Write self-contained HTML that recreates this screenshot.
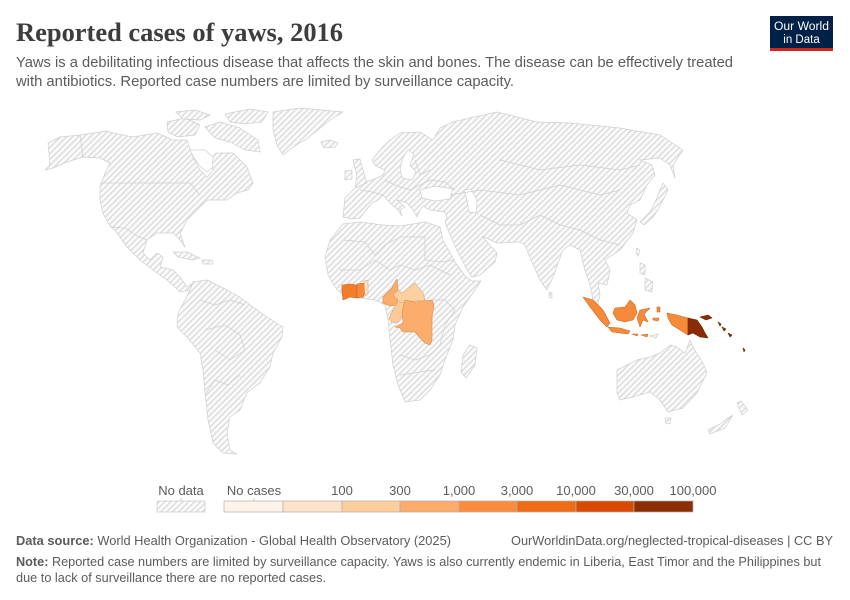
<!DOCTYPE html>
<html><head><meta charset="utf-8"><style>
html,body{margin:0;padding:0;background:#fff;}
svg{display:block;}
</style></head><body>
<svg width="850" height="600" viewBox="0 0 850 600" xmlns="http://www.w3.org/2000/svg" font-family="Liberation Sans, sans-serif">
<defs>
<pattern id="h" patternUnits="userSpaceOnUse" width="4.2" height="4.2" patternTransform="rotate(45)">
<rect width="4.2" height="4.2" fill="#fbfbfb"/>
<line x1="1" y1="0" x2="1" y2="4.2" stroke="#dadada" stroke-width="1.4"/>
</pattern>
</defs>
<rect width="850" height="600" fill="#fff"/>
<!-- Header -->
<text x="16" y="41" style="font-family:'Liberation Serif',serif;font-weight:bold;font-size:26px" fill="#3d3d3d" textLength="327" lengthAdjust="spacingAndGlyphs">Reported cases of yaws, 2016</text>
<text x="16" y="67" font-size="15" fill="#5b5b5b" textLength="717" lengthAdjust="spacingAndGlyphs">Yaws is a debilitating infectious disease that affects the skin and bones. The disease can be effectively treated</text>
<text x="16" y="86" font-size="15" fill="#5b5b5b" textLength="498" lengthAdjust="spacingAndGlyphs">with antibiotics. Reported case numbers are limited by surveillance capacity.</text>
<rect x="770" y="16" width="63" height="35" fill="#002147"/>
<rect x="770" y="48" width="63" height="3" fill="#ce261e"/>
<text x="801.5" y="30" font-size="11.5" fill="#fff" text-anchor="middle" textLength="55" lengthAdjust="spacingAndGlyphs">Our World</text>
<text x="801.5" y="43" font-size="11.5" fill="#fff" text-anchor="middle">in Data</text>

<!-- Map -->
<g fill="url(#h)" stroke="#cfcfcf" stroke-width="0.7" stroke-linejoin="round">
<path d="M45,170 L50,165 L48,143 L60,137 L80,135 L107,131 L113,133 L133,137 L157,133 L173,140 L187,140 L193,157 L200,170 L207,177 L213,170 L210,160 L216,153 L233,153 L247,167 L253,183 L248,190 L237,193 L227,200 L207,200 L197,210 L187,220 L182,230 L180,233 L185,247 L180,240 L173,233 L157,233 L147,240 L143,253 L150,260 L157,253 L163,257 L160,267 L173,270 L180,277 L187,287 L193,283 L190,290 L180,292 L167,280 L153,270 L140,260 L127,247 L117,233 L108,223 L103,213 L100,200 L100,187 L105,173 L110,163 L100,158 L83,157 L67,162 L53,168 Z"/>
<path d="M190,150 L205,150 L213,157 L212,168 L207,172 L200,166 L194,158 Z" fill="#fff"/>
<path d="M167,122 L185,118 L200,125 L195,135 L178,137 L168,132 Z"/>
<path d="M205,127 L220,122 L240,128 L258,140 L260,152 L245,150 L230,142 L215,138 Z"/>
<path d="M225,114 L250,109 L268,112 L262,122 L245,124 L230,122 Z"/>
<path d="M176,112 L195,110 L210,115 L200,120 L183,119 Z"/>
<path d="M273,112 L300,108 L343,112 L330,120 L318,130 L305,140 L293,147 L283,155 L277,145 L273,130 Z"/>
<path d="M321,142 L330,140 L338,143 L335,147 L324,148 Z"/>
<path d="M173,252 L187,252 L200,258 L192,260 L178,257 Z"/>
<path d="M202,260 L212,260 L213,264 L203,264 Z"/>
<path d="M193,282 L207,280 L227,290 L240,297 L253,307 L267,317 L283,327 L282,337 L273,353 L270,367 L260,383 L247,393 L240,410 L230,417 L227,433 L230,450 L237,454 L223,453 L213,443 L208,420 L205,393 L203,370 L200,353 L187,337 L177,327 L178,313 L185,300 L190,290 Z"/>
<!-- Eurasia -->
<path d="M345,198 L343,217 L352,219 L360,218 L366,210 L372,203 L378,200 L383,195 L390,203 L398,210 L402,216 L400,210 L405,207 L397,200 L407,203 L413,210 L417,217 L420,210 L423,206 L430,210 L445,212 L447,217 L445,222 L448,230 L456,248 L466,268 L472,277 L480,275 L495,262 L497,253 L487,242 L482,236 L497,243 L520,242 L525,245 L530,258 L540,280 L547,290 L553,277 L563,250 L570,245 L580,250 L585,270 L590,285 L593,300 L597,308 L600,295 L598,283 L607,285 L610,270 L605,260 L620,250 L633,233 L637,220 L627,213 L630,205 L640,200 L647,185 L655,175 L652,165 L640,160 L660,158 L670,165 L675,178 L673,165 L683,150 L660,135 L620,128 L570,123 L537,122 L497,112 L470,118 L453,122 L440,128 L433,140 L420,132 L400,133 L390,140 L380,150 L372,160 L376,166 L385,170 L383,175 L372,180 L360,183 L353,190 Z"/>
<path d="M402,178 L400,168 L403,158 L408,150 L414,154 L410,165 L416,172 L412,180 Z" fill="#fff"/>
<path d="M420,190 L435,186 L453,189 L450,199 L435,201 L422,198 Z" fill="#fff"/>
<path d="M464,190 L471,189 L477,200 L476,213 L469,212 L467,200 Z" fill="#fff"/>
<path d="M353,160 L360,159 L363,170 L367,183 L355,188 L357,176 Z"/>
<path d="M345,171 L352,170 L352,179 L345,180 Z"/>
<path d="M663,183 L668,190 L663,200 L658,210 L652,218 L644,225 L640,222 L650,212 L656,200 L660,190 Z"/>
<path d="M637,248 L640,250 L638,256 L636,253 Z"/>
<path d="M549,292 L552,293 L552,298 L549,297 Z"/>
<path d="M640,263 L645,265 L645,275 L640,273 Z"/>
<path d="M645,278 L653,282 L652,292 L645,290 Z"/>
<path d="M650,336 L658,334 L656,338 Z"/>
<!-- Africa -->
<path d="M325,257 L330,240 L343,224 L360,222 L383,225 L400,226 L425,222 L440,227 L443,240 L455,262 L465,276 L472,281 L481,281 L475,290 L463,307 L455,325 L453,340 L445,360 L440,375 L430,390 L420,400 L405,402 L398,385 L393,365 L390,340 L388,320 L385,305 L375,300 L360,298 L347,297 L337,290 L328,275 Z"/>
<path d="M470,345 L477,348 L475,365 L466,378 L461,372 L463,355 Z"/>
<!-- Australia -->
<path d="M617,370 L623,367 L637,360 L650,357 L660,353 L670,345 L677,347 L685,353 L690,340 L693,347 L703,363 L707,373 L697,393 L683,408 L668,412 L660,400 L650,392 L633,397 L620,400 L617,393 Z"/>
<path d="M665,418 L671,418 L670,424 L666,423 Z"/>
<path d="M737,403 L741,401 L748,410 L742,415 Z"/>
<path d="M728,418 L733,415 L725,428 L710,434 L708,430 L720,424 Z"/>
</g>

<g fill="none" stroke="#cfcfcf" stroke-width="0.7">
<path d="M100,183 L190,183 L200,195"/>
<path d="M110,227 L125,228 L137,236 L147,240"/>
<path d="M80,135 L83,157"/>
<path d="M200,300 L215,305 L230,300 L245,305"/>
<path d="M205,330 L225,325 L240,335 L245,350 L230,360 L215,350"/>
<path d="M205,395 L215,380 L228,385 L240,375"/>
<path d="M343,240 L365,242 L375,255 L385,245 L400,237 L425,237 L425,260 L440,262 L455,260"/>
<path d="M340,270 L360,270 L375,260 L390,270 L400,265 L415,270 L430,265 L450,275"/>
<path d="M430,300 L445,300 L455,310 L445,325 L440,345 L430,355 L415,360 L400,355"/>
<path d="M400,375 L420,372 L435,370"/>
<path d="M450,195 L480,190 L520,195 L560,185 L600,195 L620,190"/>
<path d="M480,215 L500,225 L520,225 L540,215 L560,225 L580,230 L600,240 L620,245"/>
<path d="M385,180 L395,185 L410,190 L420,185 L430,180 L445,182 L455,190"/>
<path d="M360,190 L372,192 L383,195"/>
<path d="M415,160 L420,175 L430,170"/>
<path d="M500,160 L540,170 L580,165 L620,170 L640,165"/>
</g>

<g stroke-width="0.6" stroke-linejoin="round">
<path d="M342,285 L350,284 L357,285 L357,298 L350,297 L343,300 L342,292 Z" fill="#f47d2a" stroke="#c8641e"/>
<path d="M357,284 L364,283 L365,292 L363,297 L357,298 Z" fill="#f68a3b" stroke="#c8641e"/>
<path d="M364,281 L368,280 L368,294 L365,296 Z" fill="#fde2c7" stroke="#d9a77a"/>
<path d="M395,282 L397,279 L398,290 L393,295 L398,300 L397,305 L390,306 L383,303 L383,297 L388,292 L392,288 Z" fill="#fcac6b" stroke="#d98a4a"/>
<path d="M398,290 L402,293 L415,283 L423,293 L425,300 L415,301 L405,302 L401,303 L398,300 L393,295 Z" fill="#fdd0a2" stroke="#d9a77a"/>
<path d="M397,303 L405,302 L403,315 L398,322 L392,323 L389,318 L393,310 Z" fill="#fdca98" stroke="#d9a77a"/>
<path d="M405,300 L415,302 L432,300 L434,305 L432,317 L432,330 L432,340 L430,345 L425,343 L422,340 L415,332 L403,332 L400,328 L395,327 L403,323 L402,313 Z" fill="#fcac6b" stroke="#d98a4a"/>
<g fill="#f68a3b" stroke="#d06a25">
<path d="M583,297 L593,300 L603,310 L610,323 L607,327 L600,320 L590,307 Z"/>
<path d="M608,327 L620,328 L630,331 L628,334 L612,332 Z"/>
<path d="M632,334 L638,334 L637,336 Z"/>
<path d="M641,335 L648,334 L647,337 Z"/>
<path d="M615,308 L625,307 L630,300 L635,305 L637,313 L633,320 L625,322 L617,320 L613,313 Z"/>
<path d="M640,310 L650,308 L644,314 L648,322 L643,320 L640,327 L637,318 Z"/>
<path d="M657,307 L660,307 L660,312 L657,312 Z"/>
<path d="M653,318 L659,318 L658,321 L653,320 Z"/>
<path d="M667,313 L677,315 L688,318 L688,335 L680,330 L672,325 L668,318 Z"/>
</g>
<g fill="#8a2d04" stroke="#6a2203">
<path d="M688,318 L697,320 L702,327 L705,333 L708,338 L700,337 L693,333 L688,335 Z"/>
<path d="M700,317 L708,315 L712,318 L706,320 Z"/>
<path d="M718,322 L721,324 L720,326 Z"/>
<path d="M722,327 L726,329 L724,331 Z"/>
<path d="M728,333 L732,335 L730,337 Z"/>
<path d="M743,348 L745,350 L744,352 Z"/>
</g>
</g>

<g font-size="13" fill="#5b5b5b">
<text x="181" y="495" text-anchor="middle">No data</text>
<text x="254" y="495" text-anchor="middle">No cases</text>
<text x="342" y="495" text-anchor="middle">100</text>
<text x="400" y="495" text-anchor="middle">300</text>
<text x="459" y="495" text-anchor="middle">1,000</text>
<text x="517" y="495" text-anchor="middle">3,000</text>
<text x="576" y="495" text-anchor="middle">10,000</text>
<text x="634" y="495" text-anchor="middle">30,000</text>
<text x="693" y="495" text-anchor="middle">100,000</text>
</g>
<rect x="157" y="501" width="48" height="11" fill="url(#h)" stroke="#c8c8c8" stroke-width="0.7"/>
<g stroke="#b0b0b0" stroke-width="0.7">
<rect x="224" y="501" width="59" height="11" fill="#fef3e8"/>
<rect x="283" y="501" width="59" height="11" fill="#fee3cb"/>
<rect x="342" y="501" width="58" height="11" fill="#fdcd9c"/>
<rect x="400" y="501" width="59" height="11" fill="#fdab6a"/>
<rect x="459" y="501" width="58" height="11" fill="#fb8c3e"/>
<rect x="517" y="501" width="59" height="11" fill="#f06b15"/>
<rect x="576" y="501" width="58" height="11" fill="#d84a04"/>
<rect x="634" y="501" width="59" height="11" fill="#8c2d04"/>
</g>
<g stroke="#bbb" stroke-width="0.7">
<line x1="181" y1="498" x2="181" y2="501"/>
<line x1="254" y1="498" x2="254" y2="501"/>
</g>

<text x="16" y="545" font-size="13" fill="#5b5b5b" textLength="435" lengthAdjust="spacingAndGlyphs"><tspan font-weight="bold">Data source:</tspan> World Health Organization - Global Health Observatory (2025)</text>
<text x="833" y="545" font-size="13" fill="#5b5b5b" text-anchor="end" textLength="322" lengthAdjust="spacingAndGlyphs">OurWorldinData.org/neglected-tropical-diseases | CC BY</text>
<text x="16" y="566" font-size="13" fill="#5b5b5b" textLength="805" lengthAdjust="spacingAndGlyphs"><tspan font-weight="bold">Note:</tspan> Reported case numbers are limited by surveillance capacity. Yaws is also currently endemic in Liberia, East Timor and the Philippines but</text>
<text x="16" y="582" font-size="13" fill="#5b5b5b" textLength="310" lengthAdjust="spacingAndGlyphs">due to lack of surveillance there are no reported cases.</text>
</svg>
</body></html>
